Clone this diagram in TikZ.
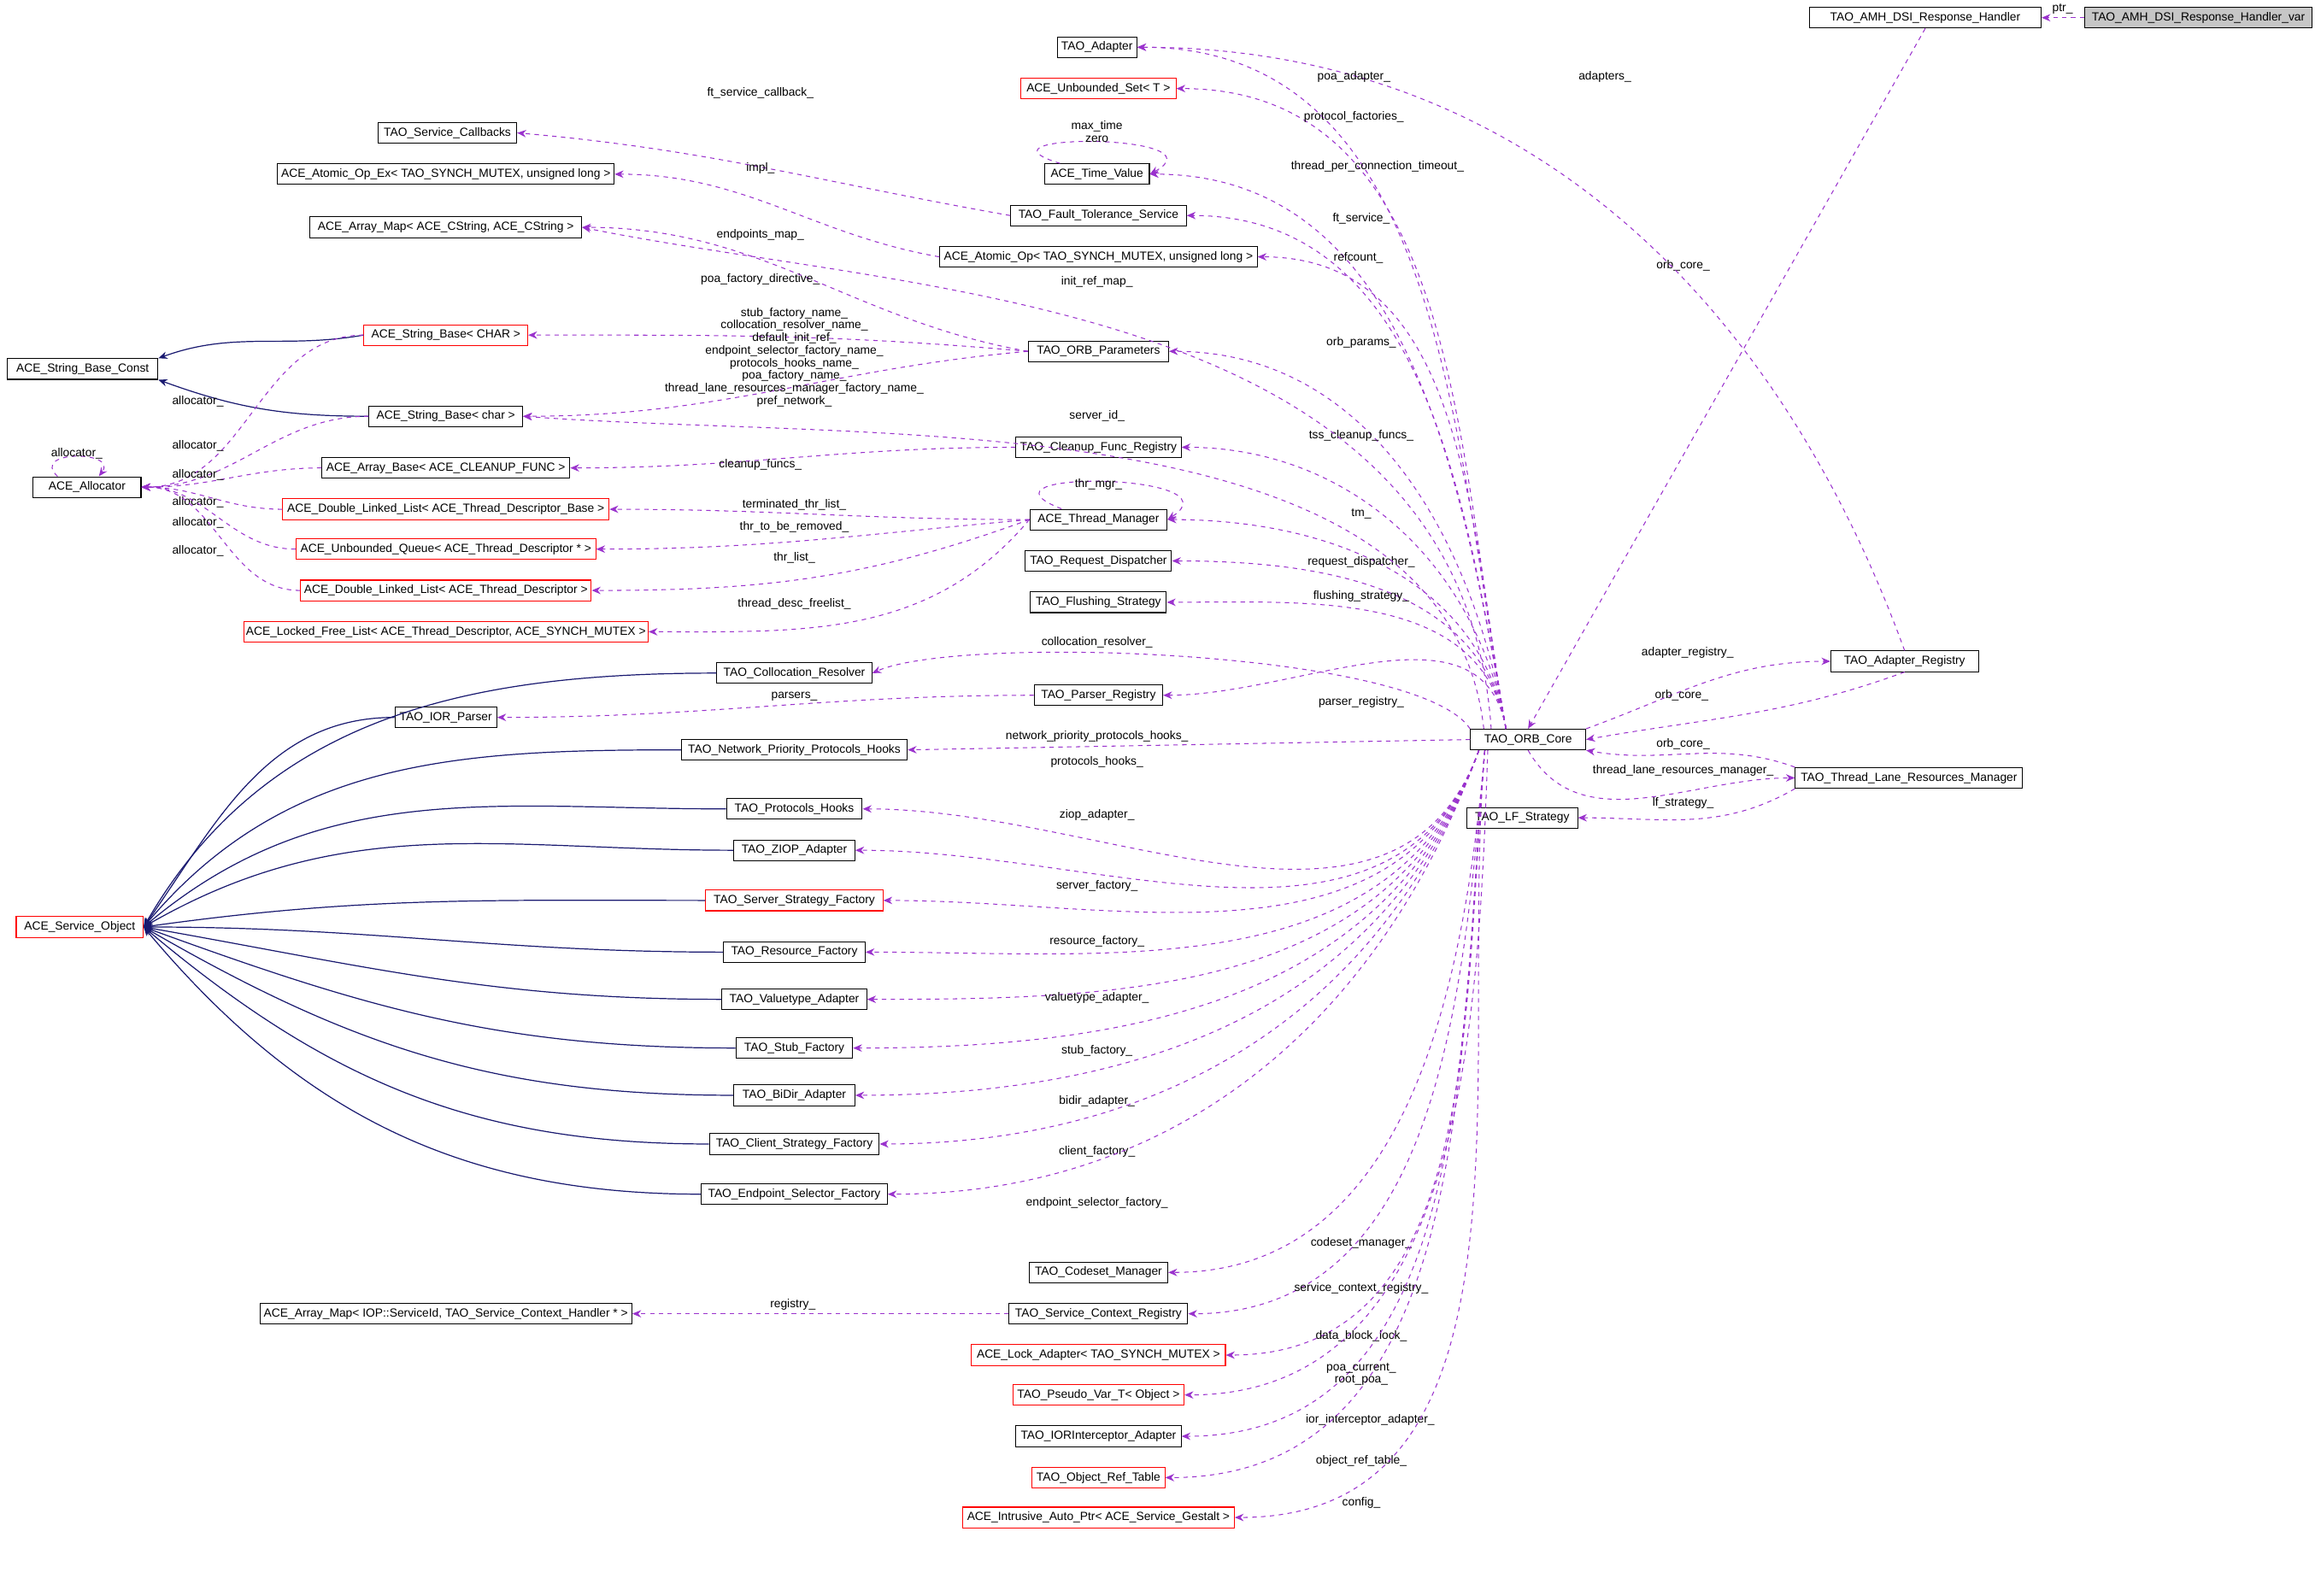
\documentclass[tikz,border=0pt]{standalone}
\usepackage{fontspec}
\setmainfont{Liberation Sans}
\usetikzlibrary{arrows.meta}
\definecolor{mem}{HTML}{9A32CD}
\definecolor{inhc}{HTML}{191970}
\tikzset{
 box/.style={draw=black,fill=white,line width=0.6pt,minimum height=14pt,inner sep=0pt,font=\fontsize{8}{9}\selectfont},
 rbox/.style={box,draw=red},
 lab/.style={font=\fontsize{8}{8.5}\selectfont,inner sep=0pt,align=center},
 memb/.style={draw=mem,dashed,line width=0.6pt,-{Stealth[length=6pt,width=5pt]}},
 inh/.style={draw=inhc,line width=0.7pt,-{Stealth[length=6pt,width=5pt]}},
}
\begin{document}
\begin{tikzpicture}[x=1pt,y=-1pt]
\useasboundingbox[fill=white] (0,0) rectangle (1568,1081);
% nodes
\node[box,fill=gray!45,minimum width=154] (var) at (1489,12) {TAO\_AMH\_DSI\_Response\_Handler\_var};
\node[box,minimum width=157] (hand) at (1304,12) {TAO\_AMH\_DSI\_Response\_Handler};
\node[box,minimum width=54] (adapter) at (743,32) {TAO\_Adapter};
\node[rbox,minimum width=105] (uset) at (744,60) {ACE\_Unbounded\_Set< T >};
\node[box,minimum width=94] (scb) at (303,90) {TAO\_Service\_Callbacks};
\node[box,minimum width=71] (tv) at (743,118) {ACE\_Time\_Value};
\node[box,minimum width=228] (aopex) at (302,118) {ACE\_Atomic\_Op\_Ex< TAO\_SYNCH\_MUTEX, unsigned long >};
\node[box,minimum width=119] (fts) at (744,146) {TAO\_Fault\_Tolerance\_Service};
\node[box,minimum width=184] (amapc) at (302,154) {ACE\_Array\_Map< ACE\_CString, ACE\_CString >};
\node[box,minimum width=215] (aop) at (744,174) {ACE\_Atomic\_Op< TAO\_SYNCH\_MUTEX, unsigned long >};
\node[rbox,minimum width=111] (sbC) at (302,227) {ACE\_String\_Base< CHAR >};
\node[box,minimum width=102] (sbconst) at (56,250) {ACE\_String\_Base\_Const};
\node[box,minimum width=95] (orbp) at (744,238) {TAO\_ORB\_Parameters};
\node[box,minimum width=104] (sbc) at (302,282) {ACE\_String\_Base< char >};
\node[box,minimum width=112] (cfr) at (744,303) {TAO\_Cleanup\_Func\_Registry};
\node[box,minimum width=73] (alloc) at (59,330) {ACE\_Allocator};
\node[box,minimum width=168] (abase) at (302,317) {ACE\_Array\_Base< ACE\_CLEANUP\_FUNC >};
\node[rbox,minimum width=221] (dllb) at (302,345) {ACE\_Double\_Linked\_List< ACE\_Thread\_Descriptor\_Base >};
\node[box,minimum width=93] (tm) at (744,352) {ACE\_Thread\_Manager};
\node[rbox,minimum width=203] (uq) at (302,372) {ACE\_Unbounded\_Queue< ACE\_Thread\_Descriptor * >};
\node[box,minimum width=99] (rd) at (744,380) {TAO\_Request\_Dispatcher};
\node[rbox,minimum width=197] (dlld) at (302,400) {ACE\_Double\_Linked\_List< ACE\_Thread\_Descriptor >};
\node[box,minimum width=92] (fs) at (744,408) {TAO\_Flushing\_Strategy};
\node[rbox,minimum width=274] (lfl) at (302,428) {ACE\_Locked\_Free\_List< ACE\_Thread\_Descriptor, ACE\_SYNCH\_MUTEX >};
\node[box,minimum width=105] (cr) at (538,456) {TAO\_Collocation\_Resolver};
\node[box,minimum width=100] (adreg) at (1290,448) {TAO\_Adapter\_Registry};
\node[box,minimum width=87] (pr) at (744,471) {TAO\_Parser\_Registry};
\node[box,minimum width=69] (iorp) at (302,486) {TAO\_IOR\_Parser};
\node[box,minimum width=78] (core) at (1035,501) {TAO\_ORB\_Core};
\node[box,minimum width=153] (npph) at (538,508) {TAO\_Network\_Priority\_Protocols\_Hooks};
\node[box,minimum width=154] (tlrm) at (1293,527) {TAO\_Thread\_Lane\_Resources\_Manager};
\node[box,minimum width=92] (ph) at (538,548) {TAO\_Protocols\_Hooks};
\node[box,minimum width=75] (lf) at (1031,554) {TAO\_LF\_Strategy};
\node[box,minimum width=82] (ziop) at (538,576) {TAO\_ZIOP\_Adapter};
\node[rbox,minimum width=120] (ssf) at (538,610) {TAO\_Server\_Strategy\_Factory};
\node[rbox,minimum width=86] (so) at (54,628) {ACE\_Service\_Object};
\node[box,minimum width=96] (rf) at (538,645) {TAO\_Resource\_Factory};
\node[box,minimum width=98] (va) at (538,677) {TAO\_Valuetype\_Adapter};
\node[box,minimum width=79] (sf) at (538,710) {TAO\_Stub\_Factory};
\node[box,minimum width=82] (bd) at (538,742) {TAO\_BiDir\_Adapter};
\node[box,minimum width=115] (csf) at (538,775) {TAO\_Client\_Strategy\_Factory};
\node[box,minimum width=126] (esf) at (538,809) {TAO\_Endpoint\_Selector\_Factory};
\node[box,minimum width=94] (csm) at (744,862) {TAO\_Codeset\_Manager};
\node[box,minimum width=252] (amapi) at (302,890) {ACE\_Array\_Map< IOP::ServiceId, TAO\_Service\_Context\_Handler * >};
\node[box,minimum width=121] (scr) at (744,890) {TAO\_Service\_Context\_Registry};
\node[rbox,minimum width=172] (la) at (744,918) {ACE\_Lock\_Adapter< TAO\_SYNCH\_MUTEX >};
\node[rbox,minimum width=116] (pv) at (744,945) {TAO\_Pseudo\_Var\_T< Object >};
\node[box,minimum width=112] (iia) at (744,973) {TAO\_IORInterceptor\_Adapter};
\node[rbox,minimum width=90] (ort) at (744,1001) {TAO\_Object\_Ref\_Table};
\node[rbox,minimum width=184] (iap) at (744,1028) {ACE\_Intrusive\_Auto\_Ptr< ACE\_Service\_Gestalt >};

% inheritance
\draw[inh] (sbC.west) to[out=190,in=20] (sbconst.north east);
\draw[inh] (sbc.west) to[out=180,in=-20] (sbconst.south east);
\foreach \n/\a in {cr/60,iorp/55,npph/50,ph/40,ziop/30,ssf/8,rf/0,va/-10,sf/-20,bd/-30,csf/-40,esf/-50}{
  \draw[inh] (\n.west) to[out=180,in=\a] (so.east);
}

% allocator
\draw[memb] ([xshift=-20]alloc.north) .. controls (20,305) and (80,305) .. ([xshift=8]alloc.north);
\node[lab] (l0) at (52,307) {allocator\_};
\foreach \n/\ly in {sbC/272,sbc/302,abase/322,dllb/340,uq/354,dlld/373}{
  \draw[memb] (\n.west) to[out=180,in=0] (alloc.east);
  \node[lab] at (134,\ly) {allocator\_};
}

% right part
\draw[memb] (var) -- (hand); \node[lab] (lptr) at (1397,6) {ptr\_};
\draw[memb] (hand.south) -- (core.north); \node[lab] (lhc) at (1140,180) {orb\_core\_};
\draw[memb] (adreg.north) to[out=110,in=0] (adapter.east); \node[lab] (lad) at (1087,52) {adapters\_};
\draw[memb] (core.north east) to[out=20,in=180] (adreg.west); \node[lab] at (1143,442) {adapter\_registry\_};
\draw[memb] (adreg.south) to[out=200,in=10] (core.east); \node[lab] at (1139,471) {orb\_core\_};
\draw[memb] (tlrm.north west) to[out=160,in=-10] (core.south east); \node[lab] at (1140,504) {orb\_core\_};
\draw[memb] (core.south) to[out=-60,in=180] (tlrm.west); \node[lab] at (1140,522) {thread\_lane\_resources\_manager\_};
\draw[memb] (tlrm.south west) to[out=-150,in=0] (lf.east); \node[lab] at (1140,544) {lf\_strategy\_};

% core members (above)
\foreach \n/\lx/\ly/\t in {adapter/917/52/poa\_adapter\_,uset/917/79/protocol\_factories\_,tv/933/113/thread\_per\_connection\_timeout\_,fts/922/148/ft\_service\_,aop/920/175/refcount\_,orbp/922/232/orb\_params\_,cfr/922/295/tss\_cleanup\_funcs\_,tm/922/348/tm\_,rd/922/381/request\_dispatcher\_,fs/922/404/flushing\_strategy\_,pr/922/476/parser\_registry\_}{
  \draw[memb] ([xshift=-15]core.north) to[out=100,in=0] (\n.east);
  \node[lab] at (\lx,\ly) {\t};
}
\draw[memb] ([xshift=-25]core.north) .. controls (990,200) and (620,200) .. (amapc.east); \node[lab] at (743,191) {init\_ref\_map\_};
\draw[memb] ([xshift=-30]core.north) .. controls (980,270) and (600,300) .. (sbc.east); \node[lab] at (743,282) {server\_id\_};
\draw[memb] (core.north west) .. controls (960,440) and (650,430) .. (cr.east); \node[lab] at (743,435) {collocation\_resolver\_};
\draw[memb] (core.west) -- (npph.east); \node[lab] at (743,499) {network\_priority\_protocols\_hooks\_};
% core members (below)
\foreach \n/\lx/\ly/\t in {ph/743/516/protocols\_hooks\_,ziop/743/552/ziop\_adapter\_,ssf/743/600/server\_factory\_,rf/743/638/resource\_factory\_,va/743/676/valuetype\_adapter\_,sf/743/712/stub\_factory\_,bd/743/746/bidir\_adapter\_,csf/743/780/client\_factory\_,esf/743/815/endpoint\_selector\_factory\_}{
  \draw[memb] ([xshift=6]core.south west) to[out=250,in=0] (\n.east);
  \node[lab] at (\lx,\ly) {\t};
}
\foreach \n/\lx/\ly/\t in {csm/922/842/codeset\_manager\_,scr/922/873/service\_context\_registry\_,la/922/905/data\_block\_lock\_,iia/928/962/ior\_interceptor\_adapter\_,ort/922/990/object\_ref\_table\_,iap/922/1018/config\_}{
  \draw[memb] ([xshift=10]core.south west) to[out=265,in=0] (\n.east);
  \node[lab] at (\lx,\ly) {\t};
}
\draw[memb] ([xshift=12]core.south west) to[out=268,in=0] (pv.east); \node[lab] at (922,931) {poa\_current\_\\root\_poa\_};

% self loops
\draw[memb] ([xshift=-25]tv.north) .. controls (650,90) and (830,90) .. (tv.east);
\node[lab] at (743,89) {max\_time\\zero};
\draw[memb] ([xshift=-25]tm.north) .. controls (650,318) and (840,320) .. (tm.east);
\node[lab] at (744,328) {thr\_mgr\_};

% middle-left members
\draw[memb] (fts.west) to[out=170,in=-5] (scb.east); \node[lab] at (515,63) {ft\_service\_callback\_};
\draw[memb] (aop.west) to[out=170,in=0] (aopex.east); \node[lab] at (515,114) {impl\_};
\draw[memb] (orbp.west) to[out=170,in=0] (amapc.east); \node[lab] at (515,159) {endpoints\_map\_};
\draw[memb] (orbp.west) to[out=175,in=0] (sbC.east); \node[lab] at (515,189) {poa\_factory\_directive\_};
\draw[memb] (orbp.west) to[out=185,in=0] (sbc.east);
\node[lab] at (538,242) {stub\_factory\_name\_\\collocation\_resolver\_name\_\\default\_init\_ref\_\\endpoint\_selector\_factory\_name\_\\protocols\_hooks\_name\_\\poa\_factory\_name\_\\thread\_lane\_resources\_manager\_factory\_name\_\\pref\_network\_};
\draw[memb] (cfr.west) to[out=180,in=0] (abase.east); \node[lab] at (515,315) {cleanup\_funcs\_};
\draw[memb] (tm.west) to[out=180,in=0] (dllb.east); \node[lab] at (538,342) {terminated\_thr\_list\_};
\draw[memb] (tm.west) to[out=185,in=0] (uq.east); \node[lab] at (538,357) {thr\_to\_be\_removed\_};
\draw[memb] (tm.west) to[out=200,in=0] (dlld.east); \node[lab] at (538,378) {thr\_list\_};
\draw[memb] (tm.west) to[out=230,in=0] (lfl.east); \node[lab] at (538,409) {thread\_desc\_freelist\_};
\draw[memb] (pr.west) to[out=180,in=0] (iorp.east); \node[lab] at (538,472) {parsers\_};
\draw[memb] (scr.west) -- (amapi.east); \node[lab] at (537,884) {registry\_};
\end{tikzpicture}
\end{document}
